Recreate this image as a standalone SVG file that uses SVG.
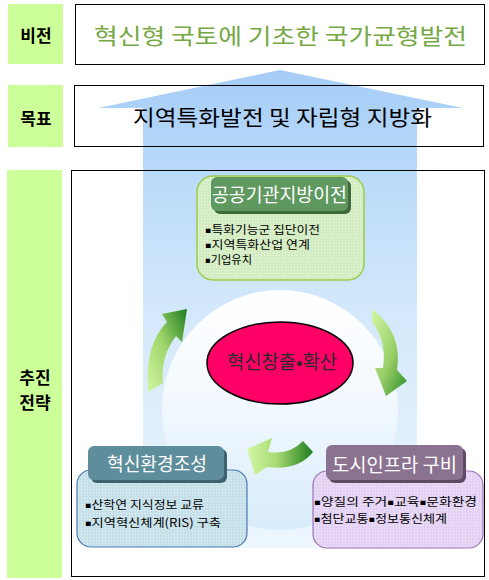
<svg xmlns="http://www.w3.org/2000/svg" width="489" height="580" viewBox="0 0 489 580">
<defs>
<style>
.lbl{font-family:"Noto Sans CJK KR","Noto Sans",sans-serif;font-weight:700;font-size:17px;fill:#000;text-anchor:middle}
.kr{font-family:"Noto Sans CJK KR","Noto Sans",sans-serif}
.ttl{font-size:19px;fill:#fff;text-anchor:middle}
.bul{font-size:11.5px;fill:#000}
.sq{font-family:"DejaVu Sans",sans-serif;font-size:8.5px;baseline-shift:1px}
.box{fill:none;stroke:#000;stroke-width:1}
</style>
<pattern id="dots" width="3" height="3" patternUnits="userSpaceOnUse"><rect width="1" height="1" fill="#fff" opacity="0.6"/></pattern>
<linearGradient id="blue" gradientUnits="userSpaceOnUse" x1="0" y1="70" x2="0" y2="548">
<stop offset="0" stop-color="#a6cdf7"/>
<stop offset="0.25" stop-color="#bcdcfa"/>
<stop offset="0.5" stop-color="#d3e8fb"/>
<stop offset="1" stop-color="#eef7fe"/>
</linearGradient>
<linearGradient id="dome" x1="0" y1="0" x2="0" y2="1">
<stop offset="0" stop-color="#ffffff"/>
<stop offset="0.45" stop-color="#f3f9ff"/>
<stop offset="1" stop-color="#d9ecfb"/>
</linearGradient>
<linearGradient id="gL" x1="0" y1="1" x2="1" y2="0">
<stop offset="0" stop-color="#d2f7a4"/>
<stop offset="0.5" stop-color="#9ed46a"/>
<stop offset="1" stop-color="#1e7d1e"/>
</linearGradient>
<linearGradient id="gR" x1="0" y1="0" x2="1" y2="1">
<stop offset="0" stop-color="#d2f7a4"/>
<stop offset="0.55" stop-color="#98cf66"/>
<stop offset="1" stop-color="#2a8a2a"/>
</linearGradient>
<linearGradient id="gB" x1="0" y1="0" x2="1" y2="0">
<stop offset="0" stop-color="#d2f7a4"/>
<stop offset="0.45" stop-color="#a8da72"/>
<stop offset="1" stop-color="#1e7d1e"/>
</linearGradient>
</defs>
<rect width="489" height="580" fill="#fff"/>

<g id="labels">
<rect x="8" y="4" width="55" height="60" fill="#ccff99"/>
<text class="lbl" x="36" y="42" font-size="18">비전</text>
<rect x="8" y="85" width="55" height="62" fill="#ccff99"/>
<text class="lbl" x="36" y="125" font-size="18">목표</text>
<rect x="7" y="170" width="55" height="408" fill="#ccff99"/>
<text class="lbl" x="35" y="384">추진</text>
<text class="lbl" x="35" y="409">전략</text>
</g>

<g id="vision">
<rect class="box" x="75.5" y="4.5" width="409" height="60" fill="#fff"/>
<text class="kr" x="280.5" y="44" font-size="22" fill="#76a846" text-anchor="middle" textLength="373" lengthAdjust="spacingAndGlyphs">혁신형 국토에 기초한 국가균형발전</text>
</g>

<g id="big-arrow">
<path d="M280 70 L463 108 L417 108 L417 548 L143 548 L143 108 L98 108 Z" fill="url(#blue)"/>
<ellipse cx="280" cy="410" rx="118" ry="120" fill="url(#dome)"/>
</g>

<g id="goal">
<rect class="box" x="74.5" y="85.5" width="409" height="61"/>
<text class="kr" x="282.5" y="125" font-size="21" fill="#000" text-anchor="middle" textLength="299" lengthAdjust="spacingAndGlyphs">지역특화발전 및 자립형 지방화</text>
</g>

<rect id="strategy" class="box" x="71.5" y="170.5" width="413" height="406"/>

<g id="connectors">
<path d="M148 392 Q144 345 167 322 L162 314 L187 309 L182 342 L176 336 Q160 357 163 383 Z" fill="url(#gL)"/>
<path d="M372 309 Q403 333 397 370 L407 381 L386 396 L375 368 L383 368 Q387 341 372 322 Z" fill="url(#gR)"/>
<path d="M303 441 Q290 455 268 452 L272 438 L247 449 L255 475 L267 467 Q298 471 313 452 Z" fill="url(#gB)"/>
</g>

<g id="node-top">
<rect x="197" y="176" width="167" height="104" rx="16" fill="#d3ecc2"/>
<rect x="197" y="176" width="167" height="104" rx="16" fill="url(#dots)" stroke="#9acd4a" stroke-width="1.5"/>
<rect x="214" y="180" width="137" height="34" rx="6" fill="#3e6b3e"/>
<rect x="211" y="177" width="137" height="34" rx="6" fill="#5f995f"/>
<text class="kr ttl" x="279.5" y="202" textLength="135" lengthAdjust="spacingAndGlyphs">공공기관지방이전</text>
<text class="kr bul" x="205" y="234" textLength="115" lengthAdjust="spacingAndGlyphs"><tspan class="sq">▪</tspan>특화기능군 집단이전</text>
<text class="kr bul" x="205" y="249" textLength="105" lengthAdjust="spacingAndGlyphs"><tspan class="sq">▪</tspan>지역특화산업 연계</text>
<text class="kr bul" x="205" y="264" textLength="47" lengthAdjust="spacingAndGlyphs"><tspan class="sq">▪</tspan>기업유치</text>
</g>

<g id="node-center">
<ellipse cx="280" cy="363" rx="73" ry="41" fill="#ff0066" stroke="#000" stroke-width="1.5"/>
<text class="kr" x="282" y="369" font-size="19" fill="#2a2a2a" text-anchor="middle" textLength="110" lengthAdjust="spacingAndGlyphs">혁신창출•확산</text>
</g>

<g id="node-left">
<rect x="77" y="470" width="170" height="77" rx="14" fill="#c6e0ea"/>
<rect x="77" y="470" width="170" height="77" rx="14" fill="url(#dots)" stroke="#4a78b0" stroke-width="1.2"/>
<rect x="91" y="449" width="136" height="34" rx="6" fill="#3d6270"/>
<rect x="88" y="446" width="136" height="34" rx="6" fill="#5e8d9c"/>
<text class="kr ttl" x="157" y="471" textLength="100" lengthAdjust="spacingAndGlyphs">혁신환경조성</text>
<text class="kr bul" x="85" y="509" textLength="119" lengthAdjust="spacingAndGlyphs"><tspan class="sq">▪</tspan>산학연 지식정보 교류</text>
<text class="kr bul" x="85" y="527" textLength="136" lengthAdjust="spacingAndGlyphs"><tspan class="sq">▪</tspan>지역혁신체계(RIS) 구축</text>
</g>

<g id="node-right">
<rect x="313" y="471" width="170" height="77" rx="14" fill="#e4d2f4"/>
<rect x="313" y="471" width="170" height="77" rx="14" fill="url(#dots)" stroke="#9d74b8" stroke-width="1.2"/>
<rect x="329" y="448" width="137" height="35" rx="6" fill="#5e4a64"/>
<rect x="326" y="445" width="137" height="35" rx="6" fill="#8a7290"/>
<text class="kr ttl" x="394.5" y="472" textLength="125" lengthAdjust="spacingAndGlyphs">도시인프라 구비</text>
<text class="kr bul" x="314" y="506" textLength="163" lengthAdjust="spacingAndGlyphs"><tspan class="sq">▪</tspan>양질의 주거<tspan class="sq">▪</tspan>교육<tspan class="sq">▪</tspan>문화환경</text>
<text class="kr bul" x="314" y="523" textLength="133" lengthAdjust="spacingAndGlyphs"><tspan class="sq">▪</tspan>첨단교통<tspan class="sq">▪</tspan>정보통신체계</text>
</g>
</svg>
